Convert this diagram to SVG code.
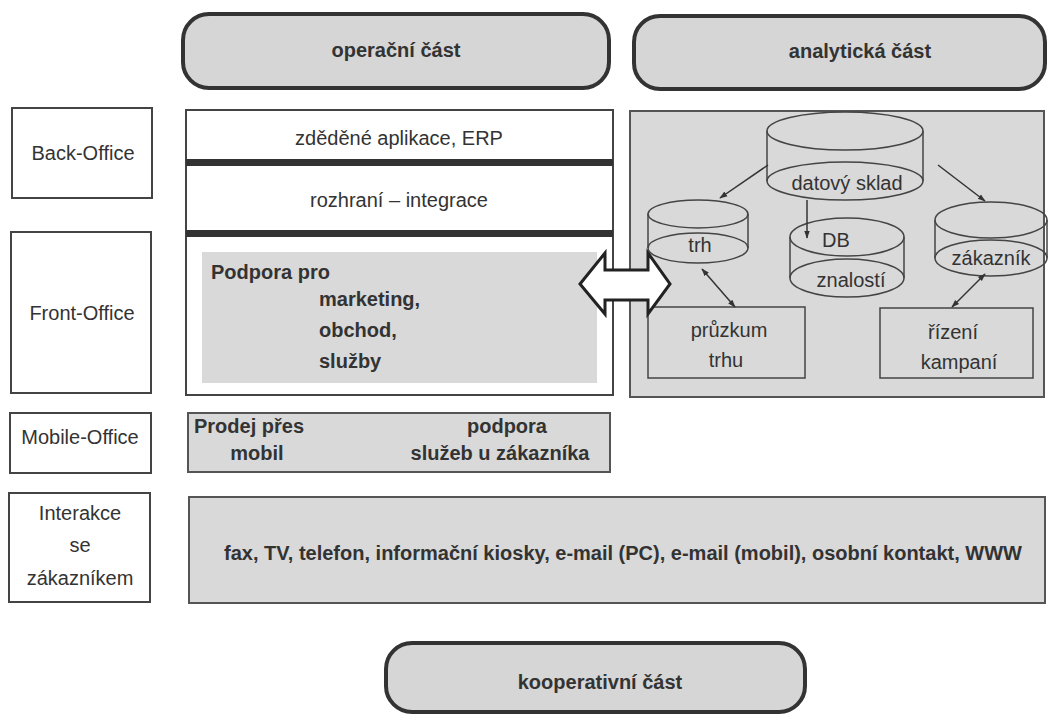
<svg xmlns="http://www.w3.org/2000/svg" width="1050" height="715" viewBox="0 0 1050 715">
<defs>
<marker id="ah" viewBox="0 0 10 10" refX="9" refY="5" markerWidth="8" markerHeight="8" orient="auto-start-reverse" markerUnits="userSpaceOnUse">
<path d="M0,1.5 L10,5 L0,8.5 z" fill="#333"/>
</marker>
<style>
.t{font-family:"Liberation Sans",Arial,sans-serif;font-size:20px;fill:#333;}
.b{font-weight:bold;}
.m{text-anchor:middle;}
.box{fill:#fff;stroke:#444;stroke-width:2;}
.gray{fill:#d9d9d9;stroke:#555;stroke-width:2;}
.pill{fill:#d6d6d6;stroke:#333;stroke-width:4;}
.shape{fill:none;stroke:#444;stroke-width:1.5;}
.bar{fill:#333;}
.con{fill:none;stroke:#333;stroke-width:1.5;}
</style>
</defs>
<rect width="1050" height="715" fill="#fff"/>

<g id="pill-operacni">
<rect class="pill" x="183" y="14" width="426" height="74" rx="26"/>
<text class="t b m" x="396" y="57">operační část</text>
</g>
<g id="pill-analyticka">
<rect class="pill" x="634" y="16" width="411" height="73" rx="26"/>
<text class="t b m" x="860" y="58">analytická část</text>
</g>
<g id="pill-kooperativni">
<rect class="pill" x="386" y="643" width="419" height="69" rx="26"/>
<text class="t b m" x="600" y="689">kooperativní část</text>
</g>

<g id="back-office">
<rect class="box" x="12" y="108" width="140" height="90"/>
<text class="t m" x="83" y="160">Back-Office</text>
</g>
<g id="front-office">
<rect class="box" x="11" y="232" width="140" height="161"/>
<text class="t m" x="82" y="320">Front-Office</text>
</g>
<g id="mobile-office">
<rect class="box" x="10" y="413" width="141" height="60"/>
<text class="t m" x="80" y="444">Mobile-Office</text>
</g>
<g id="interakce">
<rect class="box" x="9" y="493" width="141" height="109"/>
<text class="t m" x="80" y="520">Interakce</text>
<text class="t m" x="80" y="552">se</text>
<text class="t m" x="80" y="585">zákazníkem</text>
</g>

<g id="operacni-blok">
<rect class="box" x="186" y="110" width="427" height="285"/>
<rect class="bar" x="186" y="159" width="427" height="7"/>
<rect class="bar" x="186" y="230" width="427" height="7"/>
<text class="t m" x="399" y="145">zděděné aplikace, ERP</text>
<text class="t m" x="399" y="207">rozhraní – integrace</text>
</g>
<g id="podpora">
<rect x="202" y="252" width="395" height="131" fill="#d9d9d9" stroke="none"/>
<text class="t b" x="211" y="279">Podpora pro</text>
<text class="t b" x="319" y="306">marketing,</text>
<text class="t b" x="319" y="337">obchod,</text>
<text class="t b" x="319" y="368">služby</text>
</g>

<g id="analyticky-blok">
<rect class="gray" x="630" y="111" width="414" height="286"/>
</g>
<g id="datovy-sklad">
<ellipse class="shape" cx="845" cy="131" rx="78" ry="19"/>
<line class="shape" x1="767" y1="131" x2="767" y2="181"/>
<line class="shape" x1="923" y1="131" x2="923" y2="181"/>
<ellipse class="shape" cx="845" cy="181" rx="78" ry="19"/>
<text class="t m" x="847" y="190">datový sklad</text>
</g>
<g id="trh">
<ellipse class="shape" cx="698" cy="214" rx="50" ry="14"/>
<line class="shape" x1="648" y1="214" x2="648" y2="248"/>
<line class="shape" x1="748" y1="214" x2="748" y2="248"/>
<ellipse class="shape" cx="698" cy="248" rx="50" ry="15"/>
<text class="t m" x="700" y="252">trh</text>
</g>
<g id="db-znalosti">
<ellipse class="shape" cx="847" cy="237" rx="57" ry="19"/>
<line class="shape" x1="790" y1="237" x2="790" y2="278"/>
<line class="shape" x1="904" y1="237" x2="904" y2="278"/>
<ellipse class="shape" cx="847" cy="278" rx="57" ry="19"/>
<text class="t m" x="836" y="247">DB</text>
<text class="t m" x="851" y="287">znalostí</text>
</g>
<g id="zakaznik">
<ellipse class="shape" cx="991" cy="220" rx="56" ry="18"/>
<line class="shape" x1="935" y1="220" x2="935" y2="258"/>
<line class="shape" x1="1047" y1="220" x2="1047" y2="258"/>
<ellipse class="shape" cx="991" cy="258" rx="56" ry="18"/>
<text class="t m" x="991" y="265">zákazník</text>
</g>
<g id="pruzkum-trhu">
<rect class="shape" x="648" y="307" width="157" height="71"/>
<text class="t m" x="729" y="337">průzkum</text>
<text class="t m" x="726" y="367">trhu</text>
</g>
<g id="rizeni-kampani">
<rect class="shape" x="880" y="308" width="153" height="70"/>
<text class="t m" x="953" y="339">řízení</text>
<text class="t m" x="959" y="369">kampaní</text>
</g>

<g id="mobile-blok">
<rect class="gray" x="188" y="413" width="422" height="59"/>
<text class="t b" x="194" y="433">Prodej přes</text>
<text class="t b m" x="257" y="460">mobil</text>
<text class="t b m" x="507" y="433">podpora</text>
<text class="t b m" x="500" y="460">služeb u zákazníka</text>
</g>
<g id="interakce-blok">
<rect class="gray" x="189" y="497" width="856" height="106"/>
<text class="t b m" x="623" y="560">fax, TV, telefon, informační kiosky, e-mail (PC), e-mail (mobil), osobní kontakt, WWW</text>
</g>

<g id="connectors">
<path d="M580,284 L605,253 L605,270 L648,270 L648,253 L670,284 L648,314 L648,300 L605,300 L605,314 Z" fill="#fff" stroke="#222" stroke-width="3" stroke-linejoin="miter"/>
<line class="con" x1="768" y1="165" x2="720" y2="198" marker-end="url(#ah)"/>
<line class="con" x1="807" y1="200" x2="807" y2="238" marker-end="url(#ah)"/>
<line class="con" x1="938" y1="165" x2="985" y2="201" marker-end="url(#ah)"/>
<line class="con" x1="735" y1="307" x2="702" y2="269" marker-start="url(#ah)" marker-end="url(#ah)"/>
<line class="con" x1="952" y1="307" x2="985" y2="274" marker-start="url(#ah)" marker-end="url(#ah)"/>
</g>
</svg>
